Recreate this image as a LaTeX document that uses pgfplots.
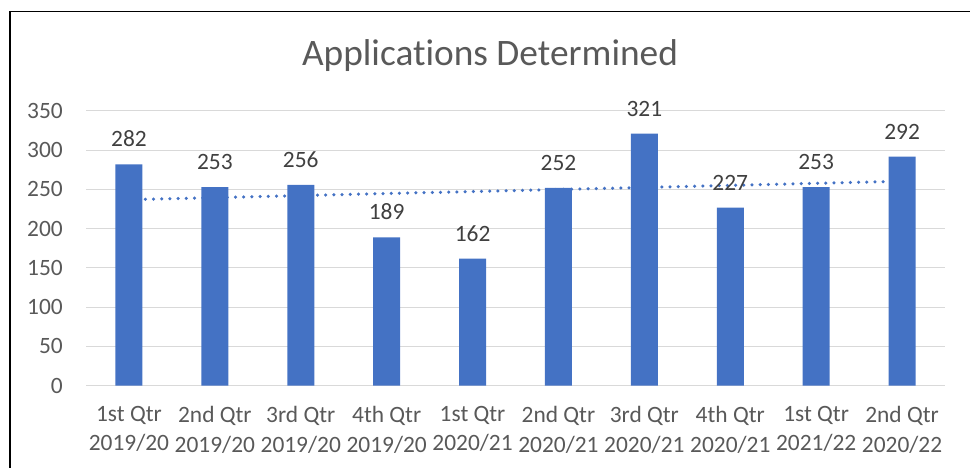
\documentclass[border=0pt]{standalone}
\usepackage{pgfplots}
\pgfplotsset{compat=1.18}
\usepackage{fontspec}
\setmainfont[Ligatures=NoCommon]{Carlito}
\definecolor{barblue}{HTML}{4472C4}
\definecolor{txtgray}{HTML}{595959}
\definecolor{lblgray}{HTML}{404040}
\definecolor{gridgray}{HTML}{D9D9D9}
\begin{document}
\begin{tikzpicture}[x=1bp,y=1bp]
\path[use as bounding box] (0,0) rectangle (970,468);
\draw[black, line width=1.3bp] (10,0) -- (10,456.5) -- (975,456.5);
\node[anchor=base, text=txtgray, font=\fontsize{37.5}{42}\selectfont, inner sep=0] at (490,402.5) {Applications Determined};
\begin{axis}[
  at={(86bp,82.3bp)}, anchor=south west,
  scale only axis, width=859bp, height=274.7bp,
  xmin=-0.5, xmax=9.5, ymin=0, ymax=350,
  ytick={0,50,...,350},
  xtick={0,...,9},
  xticklabels={{1st Qtr\\2019/20},{2nd Qtr\\2019/20},{3rd Qtr\\2019/20},{4th Qtr\\2019/20},{1st Qtr\\2020/21},{2nd Qtr\\2020/21},{3rd Qtr\\2020/21},{4th Qtr\\2020/21},{1st Qtr\\2021/22},{2nd Qtr\\2020/22}},
  axis line style={draw=none},
  axis x line*=bottom,
  x axis line style={draw=gridgray, line width=1bp},
  major tick length=0,
  ymajorgrids, grid style={gridgray, line width=1bp},
  tick label style={text=txtgray, font=\fontsize{23.5}{30}\selectfont},
  yticklabel style={anchor=east, inner sep=0, xshift=-23bp},
  xticklabel style={align=center, anchor=north, inner sep=0, yshift=-20bp},
  /pgf/number format/assume math mode=true,
  clip=false,
]
\addplot[barblue, line width=3.5bp, line cap=round, dash pattern=on 0bp off 8.2bp] coordinates {(0,236.95) (9,260.46)};
\addplot[ybar, bar width=27bp, fill=barblue, draw=none,
  nodes near coords,
  every node near coord/.append style={anchor=south, inner sep=0, yshift=17bp, text=lblgray, font=\fontsize{23.5}{28}\selectfont},
] coordinates {(0,282) (1,253) (2,256) (3,189) (4,162) (5,252) (6,321) (7,227) (8,253) (9,292)};
\end{axis}
\end{tikzpicture}
\end{document}
